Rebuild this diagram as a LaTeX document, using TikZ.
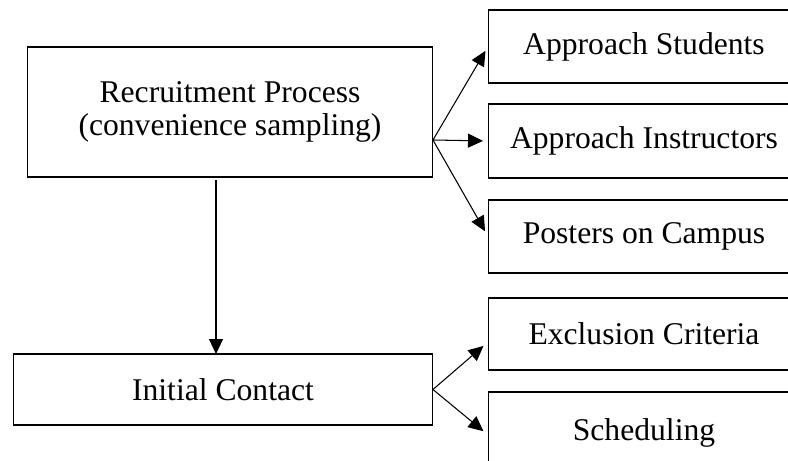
\documentclass[tikz,border=0pt]{standalone}
\usepackage{fontspec}
\setmainfont{Liberation Serif}
\usetikzlibrary{arrows.meta, positioning}

\begin{document}
\begin{tikzpicture}[x=0.02cm, y=-0.02cm, >={Triangle[length=0.3cm, width=0.28cm]}, line width=0.6pt,
	every node/.style={draw, rectangle, inner sep=0pt, outer sep=0pt, align=center, font=\fontsize{18}{18.5}\selectfont},
	side/.style={minimum width=6.24cm}]

	\useasboundingbox (0,0) rectangle (788,460);
	\clip (0,0) rectangle (788,460);

	\node [minimum width=8.12cm, minimum height=2.6cm] (RP) at (230,112) {Recruitment Process\\(convenience sampling)};
	\node [minimum width=8.4cm, minimum height=1.42cm] (IC) at (223,389.5) {Initial Contact};

	\node [side, minimum height=1.46cm] (AS) at (644,46.5) {Approach Students};
	\node [side, minimum height=1.48cm] (AI) at (644,141) {Approach Instructors};
	\node [side, minimum height=1.46cm] (PC) at (644,236.5) {Posters on Campus};
	\node [side, minimum height=1.44cm] (EC) at (644,334) {Exclusion Criteria};
	\node [side, minimum height=1.64cm] (SC) at (644,433) {Scheduling};

	\coordinate (fan) at ([yshift=-0.56cm]RP.east);
	\coordinate (down) at (216,180);

	\draw [->] (down) -- (down |- IC.north);

	\draw [->, shorten >=0.1cm] (fan) -- (AS.west);
	\draw [->, shorten >=0.1cm] (fan) -- (AI.west);
	\draw [->, shorten >=0.12cm] (fan) -- (PC.west);

	\draw [->, shorten >=0.12cm] (IC.east) -- ([yshift=-0.16cm]EC.west);
	\draw [->, shorten >=0.12cm] (IC.east) -- ([yshift=-0.04cm]SC.west);

\end{tikzpicture}
\end{document}
